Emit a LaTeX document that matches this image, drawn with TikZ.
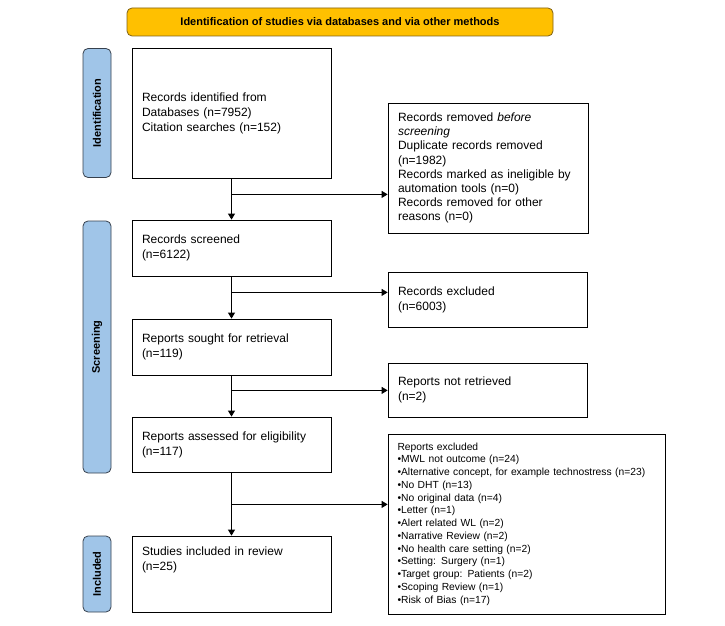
\documentclass[tikz,border=0pt]{standalone}
\usepackage{fontspec}
\setmainfont{Liberation Sans}
\usetikzlibrary{arrows.meta}
\definecolor{bannerfill}{RGB}{255,192,0}
\definecolor{bannerline}{RGB}{128,98,20}
\definecolor{phasefill}{RGB}{160,197,232}
\definecolor{phaseline}{RGB}{55,65,78}

\begin{document}
\begin{tikzpicture}[x=1pt,y=1pt,->,>={Triangle[length=6pt,width=7pt]},line width=0.8pt,
                    node distance=100pt]
  \tikzstyle{every node}=[font=\fontsize{12}{15}\selectfont]
  \tikzstyle{box}=[draw=black,fill=white,align=left,inner xsep=10pt,inner ysep=2pt,text width=179pt]
  \tikzstyle{phase}=[draw=phaseline,fill=phasefill,rounded corners=5pt,minimum width=28pt,
                     font=\fontsize{11}{13}\selectfont\bfseries]
\useasboundingbox (0,0) rectangle (725,625);
\node [draw=bannerline,fill=bannerfill,rounded corners=5pt,minimum width=426pt,minimum height=28pt,
       font=\fontsize{11}{13}\selectfont\bfseries] (0) at (340,603) {Identification of studies via databases and via other methods};
\node [box,minimum height=130pt] (1) at (231.5,512) {Records identified from\\Databases (n=7952)\\Citation searches (n=152)};
\node [box,minimum height=56pt] (2) [below of=1,node distance=135pt] {Records screened\\(n=6122)};
\node [box,minimum height=56pt] (3) [below of=2,node distance=99pt] {Reports sought for retrieval\\(n=119)};
\node [box,minimum height=55pt] (4) [below of=3,node distance=97.5pt] {Reports assessed for eligibility\\(n=117)};
\node [box,minimum height=76pt] (5) [below of=4,node distance=129.5pt] {Studies included in review\\(n=25)\\~\\~};
\node [box,text width=180pt,minimum height=130pt,font=\fontsize{12}{14.2}\selectfont] (6) [right of=1,node distance=256.5pt,yshift=-55pt]
      {Records removed \textit{before}\\\textit{screening}\\Duplicate records removed\\(n=1982)\\Records marked as ineligible by\\automation tools (n=0)\\Records removed for other\\reasons (n=0)};
\node [box,minimum height=55pt] (7) [right of=2,node distance=256pt,yshift=-51.5pt] {Records excluded\\(n=6003)};
\node [box,minimum height=54pt] (8) [right of=3,node distance=256pt,yshift=-43pt] {Reports not retrieved\\(n=2)};
\node [box,text width=258pt,inner xsep=9.5pt,minimum height=180pt,font=\fontsize{10.3}{12.75}\selectfont] (9) [right of=4,node distance=295pt,yshift=-79.5pt]
      {Reports excluded\\\textbullet MWL not outcome (n=24)\\\textbullet Alternative concept, for example technostress (n=23)\\\textbullet No DHT (n=13)\\\textbullet No original data (n=4)\\\textbullet Letter (n=1)\\\textbullet Alert related WL (n=2)\\\textbullet Narrative Review (n=2)\\\textbullet No health care setting (n=2)\\\textbullet Setting: Surgery (n=1)\\\textbullet Target group: Patients (n=2)\\\textbullet Scoping Review (n=1)\\\textbullet Risk of Bias (n=17)};
\node [phase,minimum height=129pt] (10) [left of=1,node distance=134.5pt] {\rotatebox{90}{Identification}};
\node [phase,minimum height=252pt] (11) [left of=3,node distance=134.5pt] {\rotatebox{90}{Screening}};
\node [phase,minimum height=76pt] (12) [left of=5,node distance=134.5pt] {\rotatebox{90}{Included}};

\path (1.south) ++(0,-16) coordinate (b1)
      (2.south) ++(0,-16) coordinate (b2)
      (3.south) ++(0,-15) coordinate (b3)
      (4.south) ++(0,-32) coordinate (b4);

\path (1) edge (2)
      (2) edge (3)
      (3) edge (4)
      (4) edge (5)
      (b1) edge (b1 -| 6.west)
      (b2) edge (b2 -| 7.west)
      (b3) edge (b3 -| 8.west)
      (b4) edge (b4 -| 9.west);

	\end{tikzpicture}
\end{document}
